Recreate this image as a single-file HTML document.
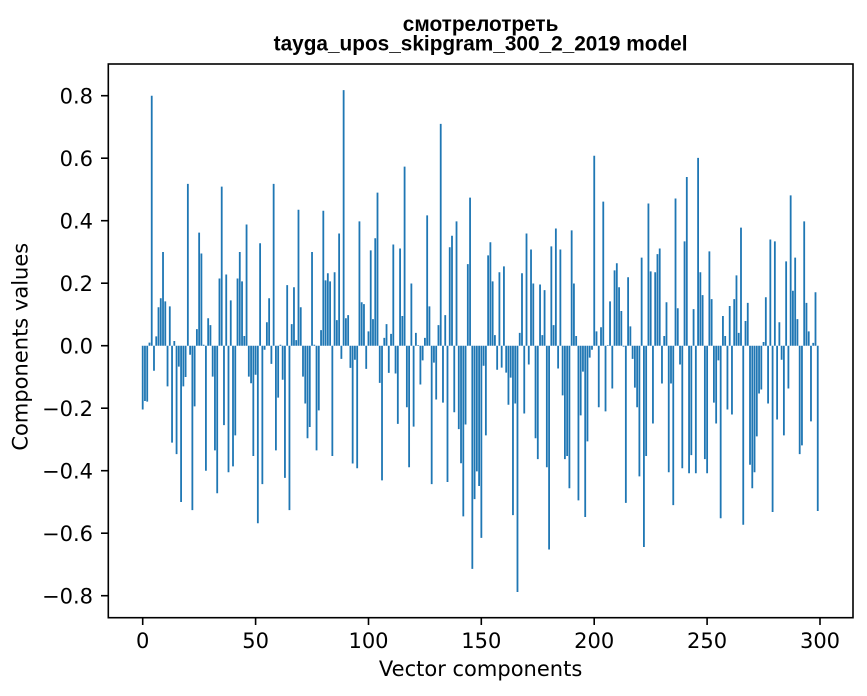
<!DOCTYPE html>
<html>
<head>
<meta charset="utf-8">
<style>
html,body{margin:0;padding:0;background:#fff;}
svg{display:block;}
</style>
</head>
<body>
<svg width="867" height="696" viewBox="0 0 867 696" xmlns="http://www.w3.org/2000/svg">
<rect x="0" y="0" width="867" height="696" fill="#fff"/>
<!-- title -->
<g font-family="'Liberation Sans', Arial, sans-serif" font-weight="bold" font-size="20.8" fill="#000" text-anchor="middle">
<text x="480.6" y="31">смотрелотреть</text>
<text x="480.6" y="50.7">tayga_upos_skipgram_300_2_2019 model</text>
</g>
<!-- bars -->
<g transform="translate(142.7 345.7) scale(2.2577 -312.5)">
<path fill="#1f77b4" d="M-.4 0
v-.204h.8V0zm1 0v-.177h.8V0zm1 0v-.179h.8V0zm1 0v.01h.8V0zm1 0v.8h.8V0zm1 0v-.08h.8V0zm1 0v.03h.8V0zm1 0v.123h.8V0zm1 0v.152h.8V0zm1 0v.3h.8V0zm1 0
v.142h.8V0zm1 0v-.13h.8V0zm1 0v.126h.8V0zm1 0v-.31h.8V0zm1 0v.015h.8V0zm1 0v-.347h.8V0zm1 0v-.067h.8V0zm1 0v-.5h.8V0zm1 0v-.13h.8V0zm1 0v-.1h.8V0zm1 0
v.518h.8V0zm1 0v-.029h.8V0zm1 0v-.526h.8V0zm1 0v-.194h.8V0zm1 0v.053h.8V0zm1 0v.362h.8V0zm1 0v.295h.8V0zm1 0v.003h.8V0zm1 0v-.4h.8V0zm1 0v.088h.8V0zm1 0
v.066h.8V0zm1 0v-.099h.8V0zm1 0v-.335h.8V0zm1 0v-.472h.8V0zm1 0v.215h.8V0zm1 0v.509h.8V0zm1 0v-.254h.8V0zm1 0v.228h.8V0zm1 0v-.405h.8V0zm1 0v.145h.8V0zm1 0
v-.386h.8V0zm1 0v-.287h.8V0zm1 0v.215h.8V0zm1 0v.3h.8V0zm1 0v.206h.8V0zm1 0v.031h.8V0zm1 0v.388h.8V0zm1 0v-.099h.8V0zm1 0v-.12h.8V0zm1 0v-.353h.8V0zm1 0
v-.093h.8V0zm1 0v-.568h.8V0zm1 0v.328h.8V0zm1 0v-.443h.8V0zm1 0v-.013h.8V0zm1 0v.075h.8V0zm1 0v.152h.8V0zm1 0v-.058h.8V0zm1 0v.518h.8V0zm1 0v-.335h.8V0zm1 0
v-.166h.8V0zm1 0v.003h.8V0zm1 0v-.109h.8V0zm1 0v-.423h.8V0zm1 0v.194h.8V0zm1 0v-.526h.8V0zm1 0v.069h.8V0zm1 0v.187h.8V0zm1 0v.018h.8V0zm1 0v.435h.8V0zm1 0
v.123h.8V0zm1 0v-.099h.8V0zm1 0v-.185h.8V0zm1 0v-.296h.8V0zm1 0v-.26h.8V0zm1 0v.3h.8V0zm1 0v.003h.8V0zm1 0v-.335h.8V0zm1 0v-.207h.8V0zm1 0v.05h.8V0zm1 0
v.432h.8V0zm1 0v.209h.8V0zm1 0v.232h.8V0zm1 0v.206h.8V0zm1 0v-.353h.8V0zm1 0v.235h.8V0zm1 0v.082h.8V0zm1 0v.359h.8V0zm1 0v-.042h.8V0zm1 0v.818h.8V0zm1 0
v.088h.8V0zm1 0v.098h.8V0zm1 0v-.071h.8V0zm1 0v-.377h.8V0zm1 0v-.045h.8V0zm1 0v-.392h.8V0zm1 0v.398h.8V0zm1 0v.139h.8V0zm1 0v.133h.8V0zm1 0v-.074h.8V0zm1 0
v.046h.8V0zm1 0v.305h.8V0zm1 0v.085h.8V0zm1 0v.344h.8V0zm1 0v.49h.8V0zm1 0v-.119h.8V0zm1 0v-.431h.8V0zm1 0v.025h.8V0zm1 0v.069h.8V0zm1 0v-.087h.8V0zm1 0
v.038h.8V0zm1 0v.324h.8V0zm1 0v-.089h.8V0zm1 0v-.25h.8V0zm1 0v.311h.8V0zm1 0v.095h.8V0zm1 0v.573h.8V0zm1 0v-.197h.8V0zm1 0v-.389h.8V0zm1 0v.199h.8V0zm1 0
v-.259h.8V0zm1 0v.041h.8V0zm1 0v.002h.8V0zm1 0v-.124h.8V0zm1 0v-.047h.8V0zm1 0v.025h.8V0zm1 0v.417h.8V0zm1 0v.126h.8V0zm1 0v-.443h.8V0zm1 0v-.054h.8V0zm1 0
v-.172h.8V0zm1 0v.066h.8V0zm1 0v.71h.8V0zm1 0v-.182h.8V0zm1 0v.098h.8V0zm1 0v-.436h.8V0zm1 0v.315h.8V0zm1 0v.352h.8V0zm1 0v-.213h.8V0zm1 0v.398h.8V0zm1 0
v-.267h.8V0zm1 0v-.376h.8V0zm1 0v-.546h.8V0zm1 0v-.252h.8V0zm1 0v.261h.8V0zm1 0v.474h.8V0zm1 0v-.714h.8V0zm1 0v-.491h.8V0zm1 0v-.402h.8V0zm1 0v-.449h.8V0zm1 0
v-.615h.8V0zm1 0v-.064h.8V0zm1 0v-.287h.8V0zm1 0v.289h.8V0zm1 0v.331h.8V0zm1 0v.206h.8V0zm1 0v.034h.8V0zm1 0v-.077h.8V0zm1 0v.235h.8V0zm1 0v-.07h.8V0zm1 0
v.254h.8V0zm1 0v-.086h.8V0zm1 0v-.189h.8V0zm1 0v-.102h.8V0zm1 0v-.542h.8V0zm1 0v-.185h.8V0zm1 0v-.788h.8V0zm1 0v.041h.8V0zm1 0v.232h.8V0zm1 0v-.217h.8V0zm1 0
v.359h.8V0zm1 0v-.06h.8V0zm1 0v.308h.8V0zm1 0v.199h.8V0zm1 0v-.296h.8V0zm1 0v-.363h.8V0zm1 0v.196h.8V0zm1 0v.034h.8V0zm1 0v.178h.8V0zm1 0v-.389h.8V0zm1 0
v-.652h.8V0zm1 0v.318h.8V0zm1 0v.066h.8V0zm1 0v.375h.8V0zm1 0v-.073h.8V0zm1 0v.308h.8V0zm1 0v-.159h.8V0zm1 0v-.363h.8V0zm1 0v-.353h.8V0zm1 0v-.456h.8V0zm1 0
v.369h.8V0zm1 0v.199h.8V0zm1 0v.031h.8V0zm1 0v-.495h.8V0zm1 0v-.223h.8V0zm1 0v-.083h.8V0zm1 0v-.548h.8V0zm1 0v-.306h.8V0zm1 0v-.038h.8V0zm1 0v-.013h.8V0zm1 0
v.608h.8V0zm1 0v.046h.8V0zm1 0v-.197h.8V0zm1 0v.059h.8V0zm1 0v.461h.8V0zm1 0v-.21h.8V0zm1 0v.002h.8V0zm1 0v.142h.8V0zm1 0v-.137h.8V0zm1 0v.241h.8V0zm1 0
v.264h.8V0zm1 0v.187h.8V0zm1 0v.111h.8V0zm1 0v-.003h.8V0zm1 0v-.503h.8V0zm1 0v.219h.8V0zm1 0v.062h.8V0zm1 0v-.042h.8V0zm1 0v-.134h.8V0zm1 0v-.197h.8V0zm1 0
v-.418h.8V0zm1 0v.282h.8V0zm1 0v-.644h.8V0zm1 0v-.353h.8V0zm1 0v.455h.8V0zm1 0v.238h.8V0zm1 0v-.249h.8V0zm1 0v.235h.8V0zm1 0v.293h.8V0zm1 0v.311h.8V0zm1 0
v-.121h.8V0zm1 0v.031h.8V0zm1 0v.139h.8V0zm1 0v-.405h.8V0zm1 0v-.121h.8V0zm1 0v-.51h.8V0zm1 0v.471h.8V0zm1 0v.12h.8V0zm1 0v-.06h.8V0zm1 0v-.392h.8V0zm1 0
v.334h.8V0zm1 0v.54h.8V0zm1 0v-.408h.8V0zm1 0v-.35h.8V0zm1 0v.117h.8V0zm1 0v-.408h.8V0zm1 0v.601h.8V0zm1 0v.235h.8V0zm1 0v.162h.8V0zm1 0v-.363h.8V0zm1 0
v-.408h.8V0zm1 0v.302h.8V0zm1 0v.149h.8V0zm1 0v-.182h.8V0zm1 0v-.249h.8V0zm1 0v-.047h.8V0zm1 0v-.552h.8V0zm1 0v.095h.8V0zm1 0v.031h.8V0zm1 0v-.204h.8V0zm1 0
v.127h.8V0zm1 0v-.22h.8V0zm1 0v.149h.8V0zm1 0v.225h.8V0zm1 0v.041h.8V0zm1 0v.378h.8V0zm1 0v-.573h.8V0zm1 0v.079h.8V0zm1 0v.137h.8V0zm1 0v-.381h.8V0zm1 0
v-.456h.8V0zm1 0v-.405h.8V0zm1 0v-.29h.8V0zm1 0v-.153h.8V0zm1 0v-.14h.8V0zm1 0v.012h.8V0zm1 0v.155h.8V0zm1 0v-.185h.8V0zm1 0v.34h.8V0zm1 0v-.532h.8V0zm1 0
v.334h.8V0zm1 0v-.236h.8V0zm1 0v.075h.8V0zm1 0v-.045h.8V0zm1 0v-.287h.8V0zm1 0v.27h.8V0zm1 0v-.137h.8V0zm1 0v.481h.8V0zm1 0v.176h.8V0zm1 0v.282h.8V0zm1 0
v.085h.8V0zm1 0v-.347h.8V0zm1 0v-.319h.8V0zm1 0v.398h.8V0zm1 0v.137h.8V0zm1 0v.046h.8V0zm1 0v-.242h.8V0zm1 0v.009h.8V0zm1 0v.171h.8V0zm1 0v-.529h.8V0z"/>
</g>
<!-- axes frame -->
<rect x="108.3" y="64" width="744.7" height="553.7" fill="none" stroke="#000" stroke-width="1.6"/>
<!-- ticks -->
<g stroke="#000" stroke-width="1.6">
<line x1="101" y1="95.7" x2="108.3" y2="95.7"/>
<line x1="101" y1="158.2" x2="108.3" y2="158.2"/>
<line x1="101" y1="220.7" x2="108.3" y2="220.7"/>
<line x1="101" y1="283.2" x2="108.3" y2="283.2"/>
<line x1="101" y1="345.7" x2="108.3" y2="345.7"/>
<line x1="101" y1="408.2" x2="108.3" y2="408.2"/>
<line x1="101" y1="470.7" x2="108.3" y2="470.7"/>
<line x1="101" y1="533.2" x2="108.3" y2="533.2"/>
<line x1="101" y1="595.7" x2="108.3" y2="595.7"/>
<line x1="142.7" y1="617.7" x2="142.7" y2="625"/>
<line x1="255.6" y1="617.7" x2="255.6" y2="625"/>
<line x1="368.5" y1="617.7" x2="368.5" y2="625"/>
<line x1="481.3" y1="617.7" x2="481.3" y2="625"/>
<line x1="594.2" y1="617.7" x2="594.2" y2="625"/>
<line x1="707.1" y1="617.7" x2="707.1" y2="625"/>
<line x1="820" y1="617.7" x2="820" y2="625"/>
</g>
<g font-family="'DejaVu Sans', 'Liberation Sans', sans-serif" font-size="21" fill="#000">
<g text-anchor="end">
<text x="93" y="103.3">0.8</text>
<text x="93" y="165.8">0.6</text>
<text x="93" y="228.3">0.4</text>
<text x="93" y="290.8">0.2</text>
<text x="93" y="353.3">0.0</text>
<text x="93" y="415.8">−0.2</text>
<text x="93" y="478.3">−0.4</text>
<text x="93" y="540.8">−0.6</text>
<text x="93" y="603.3">−0.8</text>
</g>
<g text-anchor="middle">
<text x="142.7" y="648">0</text>
<text x="255.6" y="648">50</text>
<text x="368.5" y="648">100</text>
<text x="481.3" y="648">150</text>
<text x="594.2" y="648">200</text>
<text x="707.1" y="648">250</text>
<text x="820" y="648">300</text>
<text x="480.6" y="676">Vector components</text>
<text transform="translate(27.5 346.7) rotate(-90)" x="0" y="0">Components values</text>
</g>
</g>
</svg>
</body>
</html>
